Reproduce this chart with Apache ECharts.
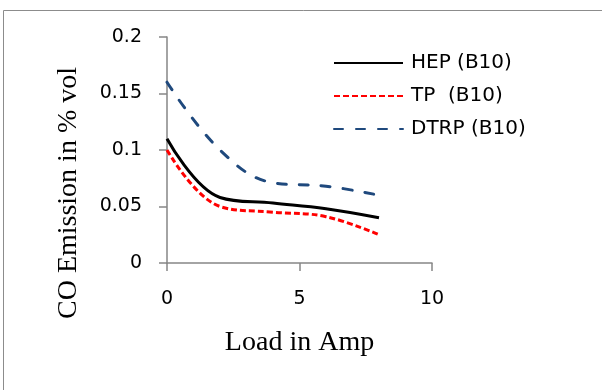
<!DOCTYPE html>
<html><head><meta charset="utf-8">
<script src="https://cdn.jsdelivr.net/npm/echarts@6/dist/echarts.min.js"></script>
<style>html,body{margin:0;padding:0;background:#fff}#c{width:602px;height:390px}</style>
</head><body><div id="c"></div>
<script>
const loads = [0, 2, 4, 6, 8];
const hep = [0.11, 0.058, 0.053, 0.048, 0.04];
const tp = [0.10, 0.05, 0.045, 0.041, 0.025];
const dtrp = [0.16, 0.10, 0.071, 0.068, 0.06];
const seriesNames = ['HEP (B10)', 'TP  (B10)', 'DTRP (B10)'];
const xTitle = 'Load in Amp';
const yTitle = 'CO Emission in % vol';

const pair = arr => loads.map((x, i) => [x, arr[i]]);
const chart = echarts.init(document.getElementById('c'));
const tickFont = {fontFamily:'DejaVu Sans', fontSize:19, color:'#000'};
chart.setOption({
  animation: false,
  graphic: [
    {type:'rect', shape:{x:3.5,y:10.5,width:640,height:420}, style:{fill:'none', stroke:'#8c8c8c', lineWidth:1}},
    {type:'text', x:69, y:193, rotation:Math.PI/2,
     style:{text:yTitle, fontFamily:'Liberation Serif', fontSize:28, fill:'#000', align:'center', verticalAlign:'middle'}}
  ],
  grid: {left:167, right:170, top:37, bottom:127},
  legend: {
    orient:'vertical', left:328, top:48, itemWidth:69, itemHeight:14, itemGap:13,
    itemStyle:{opacity:0},
    textStyle:Object.assign({}, tickFont, {fontSize:20, padding:[0,0,0,3]}),
    data: seriesNames
  },
  xAxis: {
    type:'value', min:0, max:10, interval:5,
    name:xTitle, nameLocation:'middle', nameGap:66,
    nameTextStyle:{fontFamily:'Liberation Serif', fontSize:28, color:'#000'},
    axisLine:{lineStyle:{color:'#868686', width:1.5}},
    axisTick:{show:true, length:8, lineStyle:{color:'#868686', width:1.5}},
    axisLabel:Object.assign({margin:27}, tickFont),
    splitLine:{show:false}
  },
  yAxis: {
    type:'value', min:0, max:0.2, interval:0.05,
    axisLine:{show:true, lineStyle:{color:'#868686', width:1.5}},
    axisTick:{show:true, length:8, lineStyle:{color:'#868686', width:1.5}},
    axisLabel:Object.assign({margin:25}, tickFont),
    splitLine:{show:false}
  },
  series: [
    {name:seriesNames[0], type:'line', data:pair(hep), smooth:0.4, symbol:'none',
     lineStyle:{color:'#000', width:3, type:'solid'}, itemStyle:{color:'#000'}},
    {name:seriesNames[1], type:'line', data:pair(tp), smooth:0.4, symbol:'none',
     lineStyle:{color:'#ff0000', width:3, type:[6,3]}, itemStyle:{color:'#ff0000'}},
    {name:seriesNames[2], type:'line', data:pair(dtrp), smooth:0.4, symbol:'none',
     lineStyle:{color:'#1f497d', width:3, type:[9,13], cap:'round'}, itemStyle:{color:'#1f497d'}}
  ]
});
</script></body></html>
